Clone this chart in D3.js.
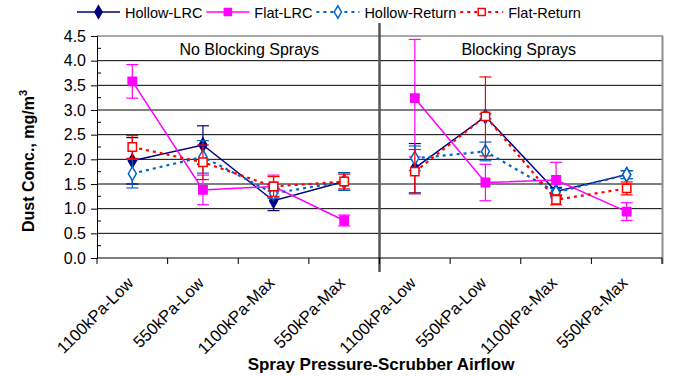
<!DOCTYPE html>
<html lang="en">
<head>
    <meta charset="utf-8" />
    <title>Dust Concentration</title>
    <style type="text/css">
        body { margin: 0; background: #fff; }
        text { font-family: Arial, "Liberation Sans", sans-serif; fill: #000; }
    </style>
    <script type="text/javascript" src="https://cdn.jsdelivr.net/npm/d3@7/dist/d3.min.js"></script>
</head>
<body>
    <div id="chart"></div>
    <script type="text/javascript">
        // categories (two panels of four)
        const categories = ['1100kPa-Low', '550kPa-Low', '1100kPa-Max', '550kPa-Max',
                            '1100kPa-Low', '550kPa-Low', '1100kPa-Max', '550kPa-Max'];
        const panels = ['No Blocking Sprays', 'Blocking Sprays'];
        const yTicks = [0, 0.5, 1, 1.5, 2, 2.5, 3, 3.5, 4, 4.5];

        const seriesNames = ['Hollow-LRC', 'Flat-LRC', 'Hollow-Return', 'Flat-Return'];
        const hollowLRC    = [1.97, 2.29, 1.16, 1.55, 1.82, 2.87, 1.35, 1.69];
        const hollowLRCErr = [0.47, 0.39, 0.20, 0.18, 0.50, 0.05, 0.08, 0.08];
        const flatLRC      = [3.58, 1.38, 1.45, 0.76, 3.24, 1.53, 1.58, 0.94];
        const flatLRCErr   = [0.34, 0.30, 0.23, 0.11, 1.19, 0.37, 0.36, 0.18];
        const hollowRet    = [1.71, 2.05, 1.31, 1.55, 2.02, 2.16, 1.33, 1.69];
        const hollowRetErr = [0.29, 0.33, 0.10, 0.18, 0.25, 0.19, 0.08, 0.08];
        const flatRet      = [2.25, 1.94, 1.45, 1.55, 1.75, 2.87, 1.18, 1.41];
        const flatRetErr   = [0.23, 0.35, 0.20, 0.15, 0.45, 0.80, 0.10, 0.13];

        const colors = ['#000080', '#ff00ff', '#0066cc', '#ff0000'];
        const dashes = [null, null, '3,4', '3,4'];
        const symbols = [d3.symbolDiamond, d3.symbolSquare, d3.symbolDiamond, d3.symbolSquare];
        const filled = [true, true, false, false];

        const series = [
            {vals: hollowLRC, err: hollowLRCErr},
            {vals: flatLRC, err: flatLRCErr},
            {vals: hollowRet, err: hollowRetErr},
            {vals: flatRet, err: flatRetErr}
        ];

        const W = 682, H = 376;
        const pLeft = 97, pRight = 662, pTop = 36, pBottom = 258;

        let x = d3.scaleBand().domain(d3.range(categories.length)).range([pLeft, pRight]);
        let y = d3.scaleLinear().domain([0, 4.5]).range([pBottom, pTop]);

        let svg = d3.select('#chart').append('svg')
            .attr('width', W)
            .attr('height', H);

        // gridlines
        svg.append('g').selectAll('line')
            .data(yTicks.filter(d => d > 0 && d < 4.5))
            .enter().append('line')
            .attr('x1', pLeft).attr('x2', pRight)
            .attr('y1', d => y(d)).attr('y2', d => y(d))
            .attr('stroke', '#000').attr('stroke-width', 1);

        // plot border top/right
        svg.append('line').attr('x1', pLeft).attr('x2', pRight + 1)
            .attr('y1', y(4.5)).attr('y2', y(4.5))
            .attr('stroke', '#8c8c8c').attr('stroke-width', 1.5);
        svg.append('line').attr('x1', pRight + 0.5).attr('x2', pRight + 0.5)
            .attr('y1', y(4.5)).attr('y2', pBottom + 6)
            .attr('stroke', '#8c8c8c').attr('stroke-width', 2);

        // panel separator
        let sepX = x(4);
        svg.append('line').attr('x1', sepX).attr('x2', sepX)
            .attr('y1', 23).attr('y2', 272)
            .attr('stroke', '#555').attr('stroke-width', 2.5);

        // y axis
        let yAxis = svg.append('g')
            .attr('transform', 'translate(' + pLeft + ',0)')
            .call(d3.axisLeft(y).tickValues(yTicks).tickFormat(d3.format('.1f')).tickSizeOuter(0).tickSize(6));
        yAxis.select('.domain').attr('stroke', '#000');
        yAxis.selectAll('text').style('font-size', '16px').attr('x', -11);
        let minor = d3.range(0.25, 4.5, 0.5);
        svg.append('g').selectAll('line')
            .data(minor).enter().append('line')
            .attr('x1', pLeft).attr('x2', pLeft + 4)
            .attr('y1', d => y(d)).attr('y2', d => y(d))
            .attr('stroke', '#000');

        // x axis
        svg.append('line').attr('x1', pLeft).attr('x2', pRight)
            .attr('y1', pBottom).attr('y2', pBottom)
            .attr('stroke', '#000').attr('stroke-width', 1.2);
        let bounds = d3.range(categories.length + 1).map(i => i < categories.length ? x(i) : pRight);
        svg.append('g').selectAll('line')
            .data(bounds).enter().append('line')
            .attr('x1', d => d).attr('x2', d => d)
            .attr('y1', pBottom).attr('y2', pBottom + 6)
            .attr('stroke', '#000');
        svg.append('g').selectAll('text')
            .data(categories).enter().append('text')
            .attr('transform', (d, i) => 'translate(' + (x(i) + x.bandwidth() / 2 + 2) + ',' + (pBottom + 26) + ') rotate(-45)')
            .attr('text-anchor', 'end')
            .style('font-size', '16.5px')
            .text(d => d);

        // panel titles
        svg.append('g').selectAll('text')
            .data(panels).enter().append('text')
            .attr('x', (d, i) => i === 0 ? (x(0) + x(4)) / 2 + 11 : (x(4) + pRight) / 2 - 2)
            .attr('y', 55)
            .attr('text-anchor', 'middle')
            .style('font-size', '16px')
            .text(d => d);

        // axis titles
        svg.append('text')
            .attr('transform', 'translate(34,161) rotate(-90)')
            .attr('text-anchor', 'middle')
            .style('font-size', '16px').style('font-weight', 'bold')
            .html('Dust Conc., mg/m<tspan dy="-7" font-size="11px">3</tspan>');
        svg.append('text')
            .attr('x', 381).attr('y', 370)
            .attr('text-anchor', 'middle')
            .style('font-size', '17px').style('font-weight', 'bold')
            .text('Spray Pressure-Scrubber Airflow');

        let cx = i => x(i) + x.bandwidth() / 2;
        let line = d3.line().x(d => cx(d.i)).y(d => y(d.v));

        series.forEach((s, k) => {
            let pts = s.vals.map((v, i) => ({i: i, v: v, e: s.err[i]}));
            let g = svg.append('g');
            // error bars
            let eb = g.selectAll('.eb').data(pts).enter().append('g');
            eb.append('line')
                .attr('x1', d => cx(d.i)).attr('x2', d => cx(d.i))
                .attr('y1', d => y(d.v - d.e)).attr('y2', d => y(d.v + d.e))
                .attr('stroke', colors[k]).attr('stroke-width', 1.2);
            [-1, 1].forEach(sgn => {
                eb.append('line')
                    .attr('x1', d => cx(d.i) - 6).attr('x2', d => cx(d.i) + 6)
                    .attr('y1', d => y(d.v + sgn * d.e)).attr('y2', d => y(d.v + sgn * d.e))
                    .attr('stroke', colors[k]).attr('stroke-width', 1.2);
            });
            // lines per panel
            [pts.slice(0, 4), pts.slice(4)].forEach(p => {
                g.append('path')
                    .datum(p)
                    .attr('d', line)
                    .attr('fill', 'none')
                    .attr('stroke', colors[k])
                    .attr('stroke-width', dashes[k] ? 2.2 : 1.5)
                    .attr('stroke-dasharray', dashes[k]);
            });
            // markers
            g.selectAll('.mk').data(pts).enter().append('path')
                .attr('transform', d => 'translate(' + cx(d.i) + ',' + y(d.v) + ')')
                .attr('d', d3.symbol().type(symbols[k]).size(symbols[k] === d3.symbolSquare ? 70 : 55))
                .attr('fill', filled[k] ? colors[k] : '#fff')
                .attr('stroke', colors[k])
                .attr('stroke-width', 1.5);
        });

        // legend
        let lx = 77;
        seriesNames.forEach((name, k) => {
            let g = svg.append('g').attr('transform', 'translate(' + lx + ',12)');
            g.append('line').attr('x1', 0).attr('x2', 43).attr('y1', 0).attr('y2', 0)
                .attr('stroke', colors[k])
                .attr('stroke-width', dashes[k] ? 2.2 : 1.5)
                .attr('stroke-dasharray', dashes[k]);
            g.append('path')
                .attr('transform', 'translate(21.5,0)')
                .attr('d', d3.symbol().type(symbols[k]).size(symbols[k] === d3.symbolSquare ? 50 : 45))
                .attr('fill', filled[k] ? colors[k] : '#fff')
                .attr('stroke', colors[k]).attr('stroke-width', 1.5);
            let t = g.append('text').attr('x', 48).attr('y', 5.5)
                .style('font-size', '14.5px').text(name);
            lx += 48 + t.node().getComputedTextLength() + 4;
        });
    </script>
</body>
</html>
